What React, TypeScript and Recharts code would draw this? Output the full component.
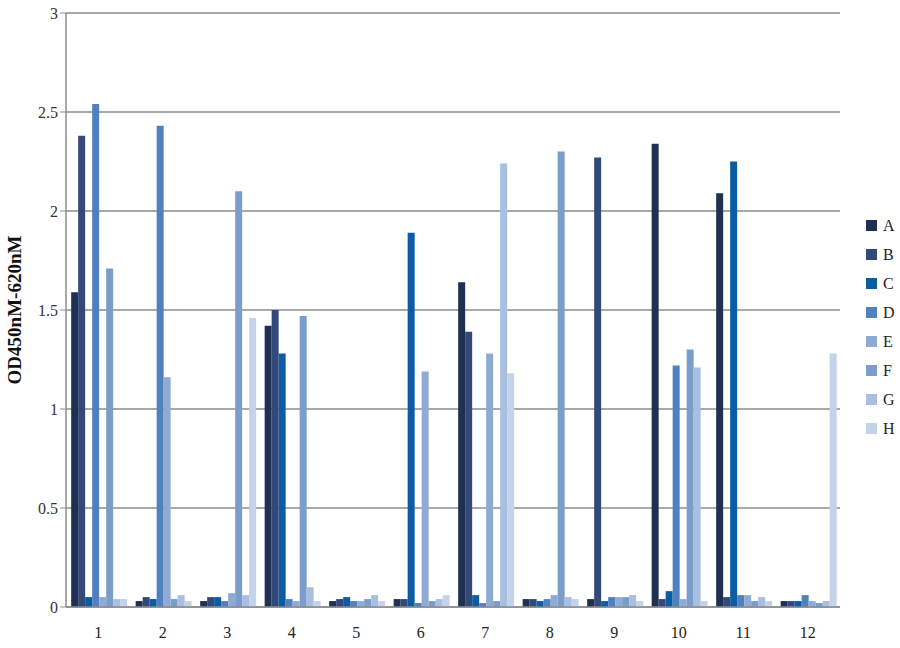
import { BarChart, Bar, XAxis, YAxis, CartesianGrid } from "recharts";

const wells = ["1", "2", "3", "4", "5", "6", "7", "8", "9", "10", "11", "12"];
const rowA = [1.59, 0.03, 0.03, 1.42, 0.03, 0.04, 1.64, 0.04, 0.04, 2.34, 2.09, 0.03];
const rowB = [2.38, 0.05, 0.05, 1.5, 0.04, 0.04, 1.39, 0.04, 2.27, 0.04, 0.05, 0.03];
const rowC = [0.05, 0.04, 0.05, 1.28, 0.05, 1.89, 0.06, 0.03, 0.03, 0.08, 2.25, 0.03];
const rowD = [2.54, 2.43, 0.03, 0.04, 0.03, 0.02, 0.02, 0.04, 0.05, 1.22, 0.06, 0.06];
const rowE = [0.05, 1.16, 0.07, 0.03, 0.03, 1.19, 1.28, 0.06, 0.05, 0.04, 0.06, 0.03];
const rowF = [1.71, 0.04, 2.1, 1.47, 0.04, 0.03, 0.03, 2.3, 0.05, 1.3, 0.03, 0.02];
const rowG = [0.04, 0.06, 0.06, 0.1, 0.06, 0.04, 2.24, 0.05, 0.06, 1.21, 0.05, 0.03];
const rowH = [0.04, 0.03, 1.46, 0.03, 0.03, 0.06, 1.18, 0.04, 0.03, 0.03, 0.03, 1.28];
const yTicks = [0, 0.5, 1, 1.5, 2, 2.5, 3];

const series = [
  { key: "A", values: rowA, color: "#1f3152" },
  { key: "B", values: rowB, color: "#33497a" },
  { key: "C", values: rowC, color: "#0b5ca2" },
  { key: "D", values: rowD, color: "#5080be" },
  { key: "E", values: rowE, color: "#8eaad5" },
  { key: "F", values: rowF, color: "#7b9dcb" },
  { key: "G", values: rowG, color: "#a9bfe1" },
  { key: "H", values: rowH, color: "#c4d3ea" },
];

const data = wells.map((w, i) => {
  const row: Record<string, string | number> = { well: w };
  series.forEach(s => {
    row[s.key] = s.values[i];
  });
  return row;
});

const font = "'Liberation Serif', 'Times New Roman', serif";

// legend drawn beside the chart so it doesn't eat into the plot area
function LegendBox() {
  return (
    <div style={{ position: "absolute", left: 866, top: 211, fontFamily: font, fontSize: 16, color: "#222" }}>
      {series.map(s => (
        <div key={s.key} style={{ display: "flex", alignItems: "center", height: 29 }}>
          <span style={{ width: 11, height: 11, background: s.color, marginRight: 6, display: "inline-block" }} />
          <span>{s.key}</span>
        </div>
      ))}
    </div>
  );
}

export default function App() {
  return (
    <div style={{ position: "absolute", left: 0, top: 0, width: 900, height: 648, background: "#fff", fontFamily: font }}>
      <BarChart
        width={900}
        height={648}
        data={data}
        margin={{ top: 13, right: 60, bottom: 11, left: 16 }}
        barCategoryGap="8%"
        barGap={0}
        style={{ fontFamily: font }}
      >
        <CartesianGrid vertical={false} stroke="#8c8c8c" strokeWidth={1.5} />
        <XAxis
          dataKey="well"
          height={30}
          axisLine={{ stroke: "#8c8c8c", strokeWidth: 1.5 }}
          tickLine={false}
          tick={{ fill: "#222", fontSize: 16, fontFamily: font }}
          tickMargin={14}
        />
        <YAxis
          width={50}
          domain={[0, 3]}
          ticks={yTicks}
          interval={0}
          axisLine={{ stroke: "#8c8c8c", strokeWidth: 1.5 }}
          tickLine={{ stroke: "#8c8c8c" }}
          tickSize={6}
          tick={{ fill: "#333", fontSize: 16, fontFamily: font }}
          label={{
            value: "OD450nM-620nM",
            angle: -90,
            position: "insideLeft",
            offset: -2,
            style: { textAnchor: "middle", fontSize: 19, fontWeight: "bold", fill: "#111", fontFamily: font },
          }}
        />
        {series.map(s => (
          <Bar key={s.key} dataKey={s.key} fill={s.color} isAnimationActive={false} />
        ))}
      </BarChart>
      <LegendBox />
    </div>
  );
}
